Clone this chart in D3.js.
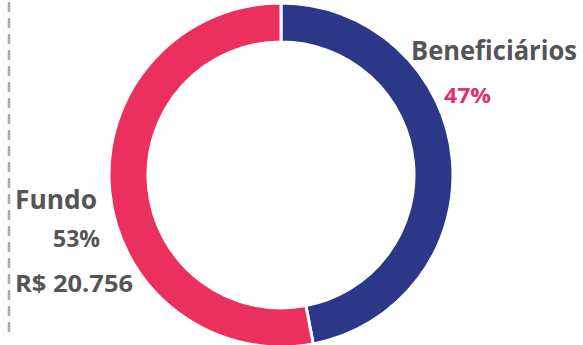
<!DOCTYPE html>
<html>
<head>
<meta charset="utf-8">
<script src="https://cdn.jsdelivr.net/npm/d3@7"></script>
<style>
  html, body { margin: 0; padding: 0; background: #fff; }
  svg { display: block; }
  text { font-family: "Open Sans", Lato, sans-serif; font-weight: 700; }
</style>
</head>
<body>
<svg id="chart" width="583" height="345"></svg>
<script>
// Distribution of the total between the two parts
const categories = ["Beneficiários", "Fundo"];
const shares = [47, 53];
const shareLabels = ["47%", "53%"];
const fundValueLabel = "R$ 20.756";
const colors = ["#2c3887", "#eb305d"];

const W = 583, H = 345;
const cx = 281, cy = 175;
const outerR = 172, innerR = 133;

const svg = d3.select("#chart");

// dashed divider on the left edge
svg.append("line")
  .attr("x1", 9).attr("x2", 9)
  .attr("y1", 2).attr("y2", 332)
  .attr("stroke", "#a6a6a6")
  .attr("stroke-width", 2.5)
  .attr("stroke-dasharray", "10,6");

const pie = d3.pie().sort(null).value(d => d);
const arc = d3.arc().innerRadius(innerR).outerRadius(outerR);

const g = svg.append("g").attr("transform", `translate(${cx},${cy})`);
g.selectAll("path")
  .data(pie(shares))
  .join("path")
  .attr("d", arc)
  .attr("fill", (d, i) => colors[i])
  .attr("stroke", "#fff")
  .attr("stroke-width", 3);

// labels
const gray = "#555557";
function label(txt, x, y, size, fill, len) {
  const t = svg.append("text")
    .attr("x", x).attr("y", y)
    .attr("font-size", size)
    .attr("fill", fill)
    .text(txt);
  if (len) t.attr("textLength", len).attr("lengthAdjust", "spacingAndGlyphs");
  return t;
}

label(categories[0], 411, 60, 26, gray, 166);
label(shareLabels[0], 444, 103, 22, "#e3316a", 47);
label(categories[1], 15, 209, 27, gray, 82);
label(shareLabels[1], 53, 247, 23, gray, 47);
label(fundValueLabel, 15, 292, 24, gray, 118);
</script>
</body>
</html>
